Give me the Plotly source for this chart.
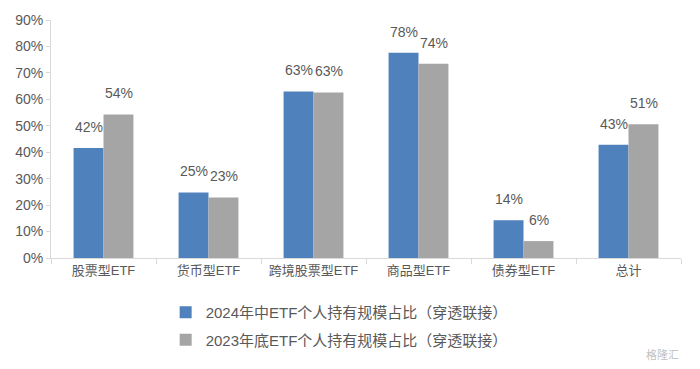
import plotly.graph_objects as go

categories = ["股票型ETF", "货币型ETF", "跨境股票型ETF", "商品型ETF", "债券型ETF", "总计"]
series_2024 = [41.6, 24.8, 63.0, 77.6, 14.3, 42.8]
series_2023 = [54.3, 22.9, 62.6, 73.5, 6.4, 50.6]
labels_2024 = ["42%", "25%", "63%", "78%", "14%", "43%"]
labels_2023 = ["54%", "23%", "63%", "74%", "6%", "51%"]
name_2024 = "2024年中ETF个人持有规模占比（穿透联接）"
name_2023 = "2023年底ETF个人持有规模占比（穿透联接）"
y_ticks = [0, 10, 20, 30, 40, 50, 60, 70, 80, 90]

FONT = "Liberation Sans, Arial, Noto Sans CJK SC, sans-serif"
GRAY_TXT = "#595959"
BLUE = "#4F81BD"
GRAY = "#A5A5A5"

fig = go.Figure()
fig.add_trace(go.Bar(x=categories, y=series_2024, name=name_2024, marker_color=BLUE,
                     marker_line_width=0, legendgroup="a"))
fig.add_trace(go.Bar(x=categories, y=series_2023, name=name_2023, marker_color=GRAY,
                     marker_line_width=0, legendgroup="b"))

for cat, v, t in zip(categories, series_2024, labels_2024):
    fig.add_annotation(x=cat, y=v, text=t, xref="x", yref="y", showarrow=False,
                       xanchor="center", yanchor="bottom", xshift=-15, yshift=11,
                       font=dict(size=14, color=GRAY_TXT, family=FONT))
for cat, v, t in zip(categories, series_2023, labels_2023):
    fig.add_annotation(x=cat, y=v, text=t, xref="x", yref="y", showarrow=False,
                       xanchor="center", yanchor="bottom", xshift=15, yshift=11,
                       font=dict(size=14, color=GRAY_TXT, family=FONT))

fig.update_layout(
    width=700, height=369,
    margin=dict(l=51, r=19, t=18, b=111),
    paper_bgcolor="white", plot_bgcolor="white",
    barmode="group", bargap=0.43, bargroupgap=0,
    font=dict(family=FONT, color=GRAY_TXT, size=13),
    showlegend=True,
    legend=dict(orientation="v", x=0.182, xanchor="left", y=-0.16, yanchor="top",
                font=dict(size=15, color=GRAY_TXT, family=FONT),
                itemwidth=30, tracegroupgap=5, bgcolor="rgba(0,0,0,0)"),
)
fig.update_yaxes(range=[0, 90], tickvals=y_ticks, ticktext=[f"{v}%" for v in y_ticks],
                 showgrid=False, showline=True, linecolor="#D9D9D9", linewidth=1,
                 ticks="outside", ticklen=4, tickcolor="#D9D9D9",
                 tickfont=dict(size=14, color=GRAY_TXT, family=FONT), zeroline=False)
fig.update_xaxes(showgrid=False, showline=True, linecolor="#D9D9D9", linewidth=1,
                 ticks="outside", ticklen=5, tickcolor="#D9D9D9", tickson="boundaries",
                 tickfont=dict(size=13, color=GRAY_TXT, family=FONT))

fig.add_annotation(text="格隆汇", xref="paper", yref="paper", x=1.0, y=-0.44,
                   xanchor="right", yanchor="bottom", showarrow=False,
                   font=dict(size=11, color="#BFBFBF"))

fig.write_html("out.html")
